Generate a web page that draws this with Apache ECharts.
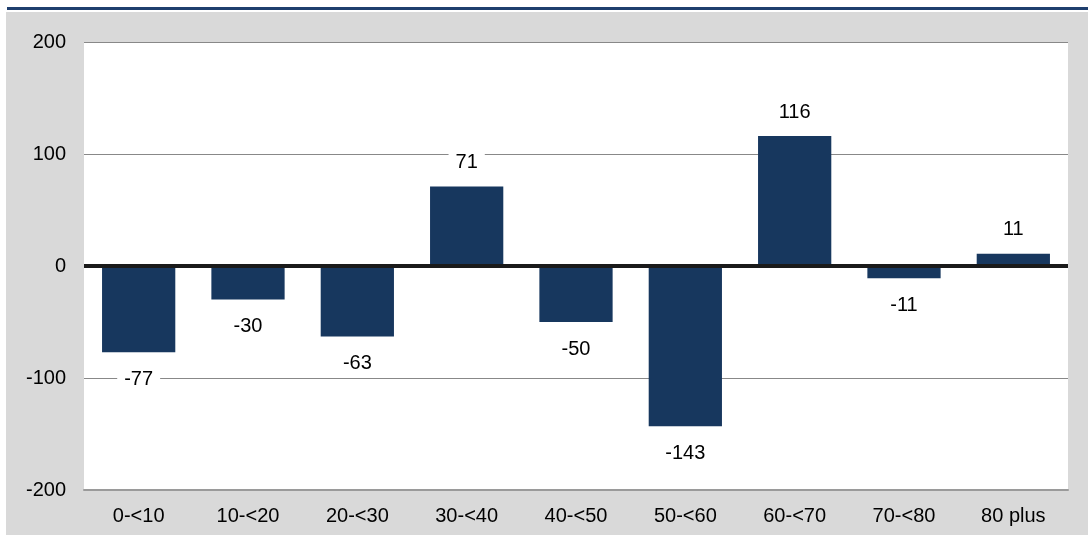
<!DOCTYPE html>
<html>
<head>
<meta charset="utf-8">
<style>
  html, body { margin: 0; padding: 0; background: #ffffff; }
  #chart { width: 1088px; height: 535px; }
</style>
<script src="https://cdn.jsdelivr.net/npm/echarts@6/dist/echarts.min.js"></script>
</head>
<body>
<div id="chart"></div>
<script>
const categories = ['0-<10', '10-<20', '20-<30', '30-<40', '40-<50', '50-<60', '60-<70', '70-<80', '80 plus'];
const values = [-77, -30, -63, 71, -50, -143, 116, -11, 11];
const yTicks = { min: -200, max: 200, interval: 100 };

const FONT = '"Liberation Sans", Arial, sans-serif';
const chart = echarts.init(document.getElementById('chart'), null, { renderer: 'canvas' });

const barData = values.map(v => ({
  value: v,
  label: v >= 0 ? { position: 'top', distance: 11 } : { position: 'bottom', distance: 14 }
}));

chart.setOption({
  backgroundColor: '#ffffff',
  animation: false,
  graphic: [
    { type: 'rect', z: -10, shape: { x: 7, y: 7, width: 1081, height: 3 }, style: { fill: '#1f3f6e' } },
    { type: 'rect', z: -10, shape: { x: 6, y: 12, width: 1082, height: 523 }, style: { fill: '#d9d9d9' } }
  ],
  grid: {
    left: 84, right: 20, top: 42, bottom: 45,
    show: true, backgroundColor: '#ffffff', borderWidth: 0, z: 0
  },
  xAxis: {
    type: 'category',
    data: categories,
    axisLine: { show: true, onZero: false, lineStyle: { color: '#9a9a9a', width: 2 } },
    axisTick: { show: false },
    axisLabel: { color: '#000000', fontSize: 20, fontFamily: FONT, margin: 16 }
  },
  yAxis: {
    type: 'value',
    min: yTicks.min, max: yTicks.max, interval: yTicks.interval,
    axisLine: { show: false },
    axisTick: { show: false },
    axisLabel: { color: '#000000', fontSize: 20, fontFamily: FONT, margin: 18 },
    splitLine: { show: true, lineStyle: { color: '#888888', width: 1 } }
  },
  series: [{
    type: 'bar',
    data: barData,
    barCategoryGap: '33%',
    itemStyle: { color: '#17375e' },
    label: {
      show: true,
      color: '#000000',
      fontSize: 20,
      fontFamily: FONT,
      backgroundColor: '#ffffff',
      padding: [3, 7]
    },
    markLine: {
      silent: true,
      symbol: 'none',
      label: { show: false },
      lineStyle: { color: '#1a1a1a', width: 4, type: 'solid' },
      data: [{ yAxis: 0 }]
    }
  }]
});
</script>
</body>
</html>
